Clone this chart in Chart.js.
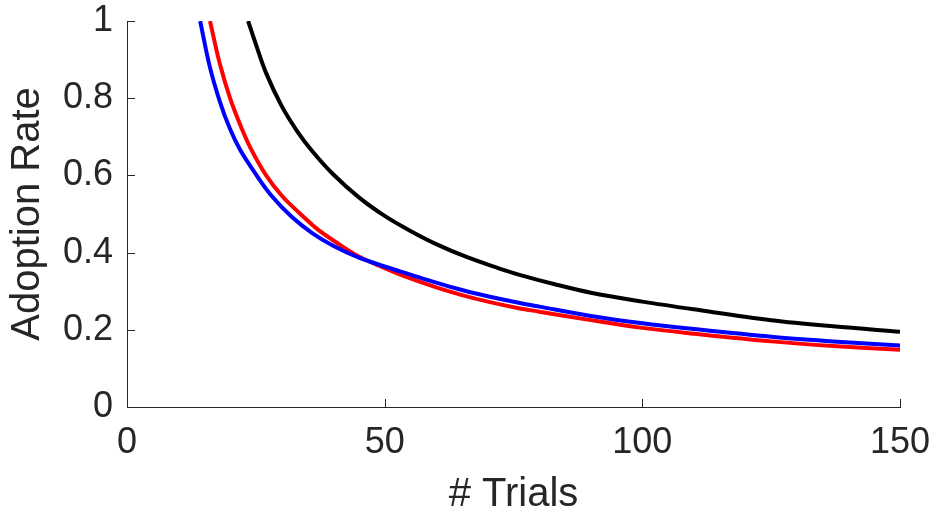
<!DOCTYPE html>
<html>
<head>
<meta charset="utf-8">
<script src="https://cdn.jsdelivr.net/npm/chart.js@4"></script>
<style>
  html, body { margin: 0; padding: 0; background: #fff; }
  #wrap { width: 935px; height: 521px; }
</style>
</head>
<body>
<div id="wrap"><canvas id="adoption-chart" width="935" height="521"></canvas></div>
<script>
// values
const blackX = [23.5, 25, 27, 30, 33, 36, 40, 45, 50, 55, 60, 66, 72, 76, 83, 90, 100, 110, 125, 137, 150];
const blackY = [1.0, 0.94, 0.865, 0.78, 0.715, 0.662, 0.603, 0.543, 0.495, 0.456, 0.422, 0.388, 0.36, 0.343, 0.318, 0.296, 0.273, 0.253, 0.225, 0.209, 0.195];

const redX = [16.1, 18, 20, 22, 24, 27, 30, 33.5, 37, 41, 45, 50, 55, 60, 65, 70, 76, 80, 90, 100, 110, 125, 137, 150];
const redY = [1.0, 0.89, 0.80, 0.73, 0.67, 0.60, 0.548, 0.502, 0.46, 0.423, 0.39, 0.36, 0.333, 0.31, 0.29, 0.273, 0.256, 0.247, 0.225, 0.205, 0.19, 0.17, 0.158, 0.148];

const blueX = [14.2, 16, 18, 20, 22, 25, 28, 32, 36, 40, 45, 50, 55, 60, 65, 70, 76, 80, 90, 100, 110, 125, 137, 150];
const blueY = [1.0, 0.885, 0.792, 0.72, 0.665, 0.603, 0.548, 0.492, 0.45, 0.418, 0.387, 0.364, 0.343, 0.322, 0.303, 0.287, 0.270, 0.260, 0.236, 0.217, 0.202, 0.182, 0.170, 0.159];

const xTicks = [0, 50, 100, 150];
const yTicks = [0, 0.2, 0.4, 0.6, 0.8, 1];

const axisColor = '#262626';
const fontFamily = '"Liberation Sans", Arial, Helvetica, sans-serif';

function points(xs, ys) {
    return xs.map((x, i) => ({ x: x, y: ys[i] }));
}

function line(label, xs, ys, color) {
    return {
        label: label,
        data: points(xs, ys),
        borderColor: color,
        borderWidth: 4,
        pointRadius: 0,
        fill: false,
        tension: 0.35
    };
}

// matlab style ticks pointing into the plot
const inwardTicks = {
    id: 'inwardTicks',
    afterDraw(chart) {
        const { ctx, chartArea, scales } = chart;
        const len = 8;
        ctx.save();
        ctx.strokeStyle = axisColor;
        ctx.lineWidth = 1;
        ctx.beginPath();
        scales.x.ticks.forEach(t => {
            const px = Math.round(scales.x.getPixelForValue(t.value)) + 0.5;
            ctx.moveTo(px, chartArea.bottom);
            ctx.lineTo(px, chartArea.bottom - len);
        });
        scales.y.ticks.forEach(t => {
            const py = Math.round(scales.y.getPixelForValue(t.value)) + 0.5;
            ctx.moveTo(chartArea.left, py);
            ctx.lineTo(chartArea.left + len, py);
        });
        ctx.stroke();
        ctx.restore();
    }
};

const ctx = document.getElementById('adoption-chart');

new Chart(ctx, {
    type: 'line',
    data: {
        datasets: [
            line('blue', blueX, blueY, '#0000ff'),
            line('red', redX, redY, '#ff0000'),
            line('black', blackX, blackY, '#000000')
        ]
    },
    options: {
        responsive: false,
        animation: false,
        layout: { padding: { top: 21, right: 35, left: 0, bottom: 0 } },
        plugins: {
            legend: { display: false },
            tooltip: { enabled: false }
        },
        scales: {
            x: {
                type: 'linear',
                min: 0,
                max: 150,
                afterBuildTicks: s => { s.ticks = xTicks.map(v => ({ value: v })); },
                afterFit: s => {
                    s.height = 114;
                    s.paddingLeft = 0;
                    s.paddingRight = 0;
                },
                grid: { drawOnChartArea: false, drawTicks: false },
                border: { color: axisColor, width: 1 },
                ticks: {
                    color: axisColor,
                    padding: 14,
                    maxRotation: 0,
                    callback: v => String(v),
                    font: { family: fontFamily, size: 36 }
                },
                title: {
                    display: true,
                    text: '# Trials',
                    color: axisColor,
                    padding: { top: 0, bottom: 2 },
                    font: { family: fontFamily, size: 40 }
                }
            },
            y: {
                type: 'linear',
                min: 0,
                max: 1,
                afterBuildTicks: s => { s.ticks = yTicks.map(v => ({ value: v })); },
                afterFit: s => {
                    s.width = 127;
                    s.paddingTop = 0;
                    s.paddingBottom = 0;
                },
                grid: { drawOnChartArea: false, drawTicks: false },
                border: { color: axisColor, width: 1 },
                ticks: {
                    color: axisColor,
                    padding: 14,
                    callback: v => String(v),
                    font: { family: fontFamily, size: 36 }
                },
                title: {
                    display: true,
                    text: 'Adoption Rate',
                    color: axisColor,
                    padding: { top: 4, bottom: 0 },
                    font: { family: fontFamily, size: 40 }
                }
            }
        }
    },
    plugins: [inwardTicks]
});
</script>
</body>
</html>
